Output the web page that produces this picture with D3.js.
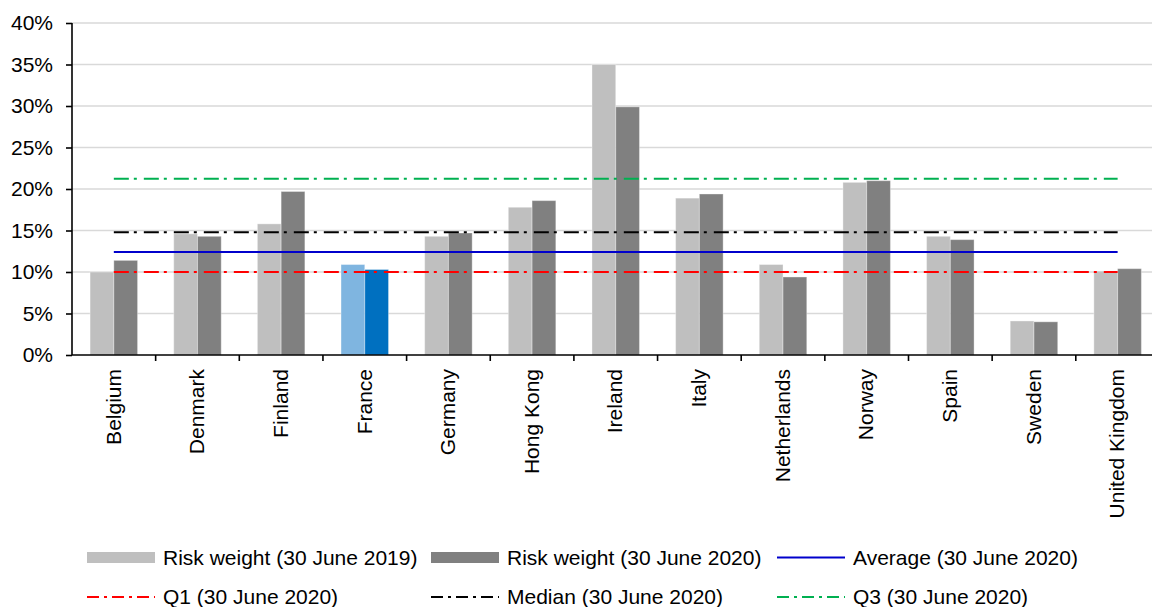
<!DOCTYPE html>
<html>
<head>
<meta charset="utf-8">
<script src="https://cdn.jsdelivr.net/npm/d3@7"></script>
<style>
  html, body { margin: 0; padding: 0; background: #fff; }
  svg { display: block; font-family: "Liberation Sans", Arial, sans-serif; }
</style>
</head>
<body>
<svg id="chart" width="1152" height="607"></svg>
<script>
// Countries shown along the x axis
const categories = ["Belgium", "Denmark", "Finland", "France", "Germany", "Hong Kong",
  "Ireland", "Italy", "Netherlands", "Norway", "Spain", "Sweden", "United Kingdom"];

// Risk weights in percent
const riskWeight2019 = [10.0, 14.6, 15.8, 10.9, 14.3, 17.8, 35.0, 18.9, 10.9, 20.8, 14.3, 4.1, 10.1];
const riskWeight2020 = [11.4, 14.3, 19.7, 10.3, 14.7, 18.6, 29.9, 19.4, 9.4, 21.0, 13.9, 4.0, 10.4];

// Summary statistics (30 June 2020), percent
const refNames  = ["Average (30 June 2020)", "Q1 (30 June 2020)", "Median (30 June 2020)", "Q3 (30 June 2020)"];
const refValues = [12.4, 10.0, 14.8, 21.25];

// Y axis ticks, percent
const yTicks = [0, 5, 10, 15, 20, 25, 30, 35, 40];

const highlighted = "France";

const svg = d3.select("#chart");
const W = 1152;
const plotLeft = 72, plotTop = 23, plotBottom = 355;
const step = 83.65;

const x = d3.scaleBand()
  .domain(categories)
  .range([plotLeft, plotLeft + step * categories.length])
  .padding(0);

const y = d3.scaleLinear().domain([0, 40]).range([plotBottom, plotTop]);

const barW = 23.75;
const fontSize = 21;

const colors = {
  y2019: "#bfbfbf", y2020: "#808080",
  hi2019: "#7fb5e0", hi2020: "#0070c0",
  grid: "#d9d9d9"
};
const refStyles = [
  { color: "#0000cc", dash: null },
  { color: "#ff0000", dash: "15,5,3,7" },
  { color: "#000000", dash: "15,5,3,7" },
  { color: "#00b050", dash: "15,5,3,7" }
];

// Gridlines
svg.append("g")
  .selectAll("line")
  .data(yTicks.filter(d => d > 0))
  .join("line")
  .attr("x1", plotLeft).attr("x2", W)
  .attr("y1", d => y(d)).attr("y2", d => y(d))
  .attr("stroke", colors.grid)
  .attr("stroke-width", 1.5);

// Bars
const groups = svg.append("g")
  .selectAll("g")
  .data(categories.map((c, i) => ({ c, v19: riskWeight2019[i], v20: riskWeight2020[i] })))
  .join("g");

groups.append("rect")
  .attr("x", d => x(d.c) + x.bandwidth() / 2 - barW)
  .attr("width", barW)
  .attr("y", d => y(d.v19))
  .attr("height", d => y(0) - y(d.v19))
  .attr("fill", d => d.c === highlighted ? colors.hi2019 : colors.y2019)
  .attr("stroke", "#ffffff").attr("stroke-opacity", 0.35).attr("stroke-width", 1);

groups.append("rect")
  .attr("x", d => x(d.c) + x.bandwidth() / 2)
  .attr("width", barW)
  .attr("y", d => y(d.v20))
  .attr("height", d => y(0) - y(d.v20))
  .attr("fill", d => d.c === highlighted ? colors.hi2020 : colors.y2020)
  .attr("stroke", "#ffffff").attr("stroke-opacity", 0.35).attr("stroke-width", 1);

// Y axis
const yAxis = svg.append("g")
  .attr("transform", `translate(${plotLeft},0)`)
  .call(d3.axisLeft(y).tickValues(yTicks).tickFormat(d => d + "%").tickSize(6).tickPadding(13));
yAxis.select(".domain").attr("stroke", "#000").attr("stroke-width", 1.6).attr("d", `M0,${plotTop}V${plotBottom}`);
yAxis.selectAll(".tick line").attr("stroke", "#000").attr("stroke-width", 1.6);
yAxis.selectAll(".tick text")
  .attr("font-size", fontSize).attr("fill", "#000")
  .attr("font-family", "'Liberation Sans', Arial, sans-serif");

// X axis: ticks at category boundaries
const xAxisG = svg.append("g");
xAxisG.append("line")
  .attr("x1", plotLeft).attr("x2", W)
  .attr("y1", plotBottom).attr("y2", plotBottom)
  .attr("stroke", "#000").attr("stroke-width", 1.6);
xAxisG.selectAll("line.tick")
  .data(categories.slice(1))
  .join("line")
  .attr("class", "tick")
  .attr("x1", d => x(d)).attr("x2", d => x(d))
  .attr("y1", plotBottom).attr("y2", plotBottom + 6)
  .attr("stroke", "#000").attr("stroke-width", 1.6);
xAxisG.selectAll("text")
  .data(categories)
  .join("text")
  .attr("transform", d => `translate(${x(d) + x.bandwidth() / 2},369) rotate(-90)`)
  .attr("text-anchor", "end")
  .attr("dy", "0.32em")
  .attr("font-size", fontSize)
  .attr("fill", "#000")
  .text(d => d);

// Reference lines spanning first to last category centre
const xStart = x(categories[0]) + x.bandwidth() / 2;
const xEnd = x(categories[categories.length - 1]) + x.bandwidth() / 2;
svg.append("g")
  .selectAll("line")
  .data(refValues.map((v, i) => ({ v, s: refStyles[i] })))
  .join("line")
  .attr("x1", xStart).attr("x2", xEnd)
  .attr("y1", d => y(d.v)).attr("y2", d => y(d.v))
  .attr("stroke", d => d.s.color)
  .attr("stroke-width", 2)
  .attr("stroke-dasharray", d => d.s.dash);

// Legend
const legendItems = [
  { label: "Risk weight (30 June 2019)", type: "rect", color: colors.y2019 },
  { label: "Risk weight (30 June 2020)", type: "rect", color: colors.y2020 },
  { label: refNames[0], type: "line", ...refStyles[0] },
  { label: refNames[1], type: "line", ...refStyles[1] },
  { label: refNames[2], type: "line", ...refStyles[2] },
  { label: refNames[3], type: "line", ...refStyles[3] }
];
const colX = [87, 431, 777];
const rowY = [557.5, 597];
const legend = svg.append("g");
legendItems.forEach((it, i) => {
  const cx = colX[i % 3], cy = rowY[Math.floor(i / 3)];
  const g = legend.append("g").attr("transform", `translate(${cx},${cy})`);
  if (it.type === "rect") {
    g.append("rect").attr("x", 0).attr("y", -5.5).attr("width", 68).attr("height", 11).attr("fill", it.color);
  } else {
    g.append("line").attr("x1", 0).attr("x2", 68).attr("y1", 0).attr("y2", 0)
      .attr("stroke", it.color).attr("stroke-width", 2)
      .attr("stroke-dasharray", it.dash ? "12,5,3,5" : null);
  }
  g.append("text").attr("x", 76).attr("dy", "0.35em")
    .attr("font-size", fontSize).attr("fill", "#000").text(it.label);
});
</script>
</body>
</html>
